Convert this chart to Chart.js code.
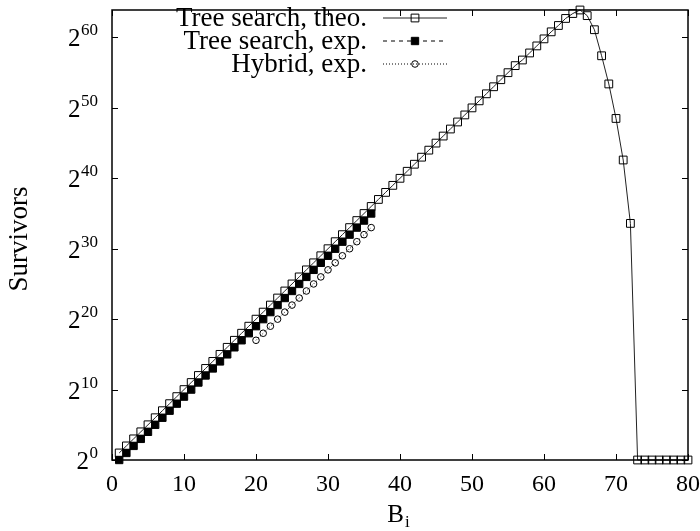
<!DOCTYPE html>
<html>
<head>
<meta charset="utf-8">
<script src="https://cdn.jsdelivr.net/npm/chart.js@4"></script>
<style>
  html, body { margin: 0; padding: 0; background: #fff; }
  canvas { display: block; }
</style>
</head>
<body>
<canvas id="chart" width="700" height="531"></canvas>
<script>
// B_i values and log2(survivors) for each series
const bTheo = [1, 2, 3, 4, 5, 6, 7, 8, 9, 10, 11, 12, 13, 14, 15, 16, 17, 18, 19, 20,
    21, 22, 23, 24, 25, 26, 27, 28, 29, 30, 31, 32, 33, 34, 35, 36, 37, 38, 39, 40,
    41, 42, 43, 44, 45, 46, 47, 48, 49, 50, 51, 52, 53, 54, 55, 56, 57, 58, 59, 60,
    61, 62, 63, 64, 65, 66, 67, 68, 69, 70, 71, 72, 73, 74, 75, 76, 77, 78, 79, 80];
const logTheo = [1, 2, 3, 4, 5, 6, 7, 8, 9, 10, 11, 12, 13, 14, 15, 16, 17, 18, 19, 20,
    21, 22, 23, 24, 25, 26, 27, 28, 29, 30, 31, 32, 33, 34, 35, 36, 37, 38, 39, 40,
    41, 42, 43, 44, 45, 46, 47, 48, 49, 50, 51, 52, 53, 54, 55, 56, 56.8, 57.8, 58.8, 59.8,
    60.8, 61.7, 62.7, 63.4, 63.9, 63.1, 61.1, 57.4, 53.4, 48.5, 42.6, 33.6, 0, 0, 0, 0, 0, 0, 0, 0];

const bExp = [1, 2, 3, 4, 5, 6, 7, 8, 9, 10, 11, 12, 13, 14, 15, 16, 17, 18,
    19, 20, 21, 22, 23, 24, 25, 26, 27, 28, 29, 30, 31, 32, 33, 34, 35, 36];
const logExp = [0, 1, 2, 3, 4, 5, 6, 7, 8, 9, 10, 11, 12, 13, 14, 15, 16, 17,
    18, 19, 20, 21, 22, 23, 24, 25, 26, 27, 28, 29, 30, 31, 32, 33, 34, 35];

const bHybrid = [20, 21, 22, 23, 24, 25, 26, 27, 28, 29, 30, 31, 32, 33, 34, 35, 36];
const logHybrid = [17, 18, 19, 20, 21, 22, 23, 24, 25, 26, 27, 28, 29, 30, 31, 32, 33];

const seriesNames = ["Tree search, theo.", "Tree search, exp.", "Hybrid, exp."];
const xTicks = [0, 10, 20, 30, 40, 50, 60, 70, 80];
const yTicks = [0, 10, 20, 30, 40, 50, 60];

const SERIF = "'Liberation Serif', 'DejaVu Serif', serif";

const pts = (xs, ys) => xs.map((x, i) => ({ x: x, y: ys[i] }));

// frame, inward ticks, y labels as 2^n, axis titles and the legend
const framePlugin = {
    id: "frame",
    afterDraw(chart) {
        const ctx = chart.ctx;
        const a = chart.chartArea;
        const xs = chart.scales.x, ys = chart.scales.y;
        ctx.save();
        ctx.strokeStyle = "#000";
        ctx.lineWidth = 1.5;
        ctx.strokeRect(a.left, a.top, a.right - a.left, a.bottom - a.top);

        ctx.lineWidth = 1;
        ctx.beginPath();
        for (const v of xTicks) {
            const px = Math.round(xs.getPixelForValue(v)) + 0.5;
            ctx.moveTo(px, a.bottom); ctx.lineTo(px, a.bottom - 6);
            ctx.moveTo(px, a.top); ctx.lineTo(px, a.top + 6);
        }
        for (const v of yTicks) {
            const py = Math.round(ys.getPixelForValue(v)) + 0.5;
            ctx.moveTo(a.left, py); ctx.lineTo(a.left + 6, py);
            ctx.moveTo(a.right, py); ctx.lineTo(a.right - 6, py);
        }
        ctx.stroke();

        // y tick labels: 2 with superscript exponent
        ctx.fillStyle = "#000";
        ctx.textBaseline = "alphabetic";
        for (const v of yTicks) {
            const py = ys.getPixelForValue(v);
            const exp = String(v);
            ctx.font = "17px " + SERIF;
            const ew = ctx.measureText(exp).width;
            ctx.textAlign = "left";
            const right = 98;
            ctx.fillText(exp, right - ew, py - 2);
            ctx.font = "25px " + SERIF;
            ctx.textAlign = "right";
            ctx.fillText("2", right - ew - 0.5, py + 9);
        }

        // axis titles
        ctx.font = "27px " + SERIF;
        ctx.textAlign = "center";
        ctx.textBaseline = "middle";
        ctx.save();
        ctx.translate(20, (a.top + a.bottom) / 2 + 4);
        ctx.rotate(-Math.PI / 2);
        ctx.fillText("Survivors", 0, 0);
        ctx.restore();

        const cx = (a.left + a.right) / 2;
        ctx.font = "25px " + SERIF;
        ctx.textAlign = "right";
        ctx.textBaseline = "alphabetic";
        ctx.fillText("B", cx + 4, 522);
        ctx.font = "17px " + SERIF;
        ctx.textAlign = "left";
        ctx.fillText("i", cx + 5, 527);

        // legend
        const rows = [18, 41, 64];
        const textRight = 367, lineL = 383, lineR = 447, mark = 415;
        chart.data.datasets.forEach((ds, i) => {
            const y = rows[i];
            ctx.font = "27px " + SERIF;
            ctx.textAlign = "right";
            ctx.textBaseline = "middle";
            ctx.fillStyle = "#000";
            ctx.fillText(seriesNames[i], textRight, y + 1);
            ctx.strokeStyle = ds.borderColor;
            ctx.lineWidth = ds.borderWidth;
            ctx.setLineDash(ds.borderDash || []);
            ctx.beginPath();
            ctx.moveTo(lineL, y); ctx.lineTo(lineR, y);
            ctx.stroke();
            ctx.setLineDash([]);
            ctx.strokeStyle = "#000";
            ctx.lineWidth = ds.pointBorderWidth;
            ctx.fillStyle = ds.pointBackgroundColor;
            ctx.beginPath();
            if (ds.pointStyle === "circle") {
                ctx.arc(mark, y, ds.pointRadius, 0, Math.PI * 2);
            } else {
                const h = ds.pointRadius * Math.SQRT1_2;
                ctx.rect(mark - h, y - h, 2 * h, 2 * h);
            }
            ctx.fill();
            ctx.stroke();
        });
        ctx.restore();
    }
};

new Chart(document.getElementById("chart"), {
    type: "line",
    data: {
        datasets: [
            {
                label: seriesNames[0],
                data: pts(bTheo, logTheo),
                borderColor: "#222",
                borderWidth: 1,
                pointStyle: "rect",
                pointRadius: 5.5,
                pointBorderWidth: 1,
                pointBorderColor: "#000",
                pointBackgroundColor: "rgba(255,255,255,0)",
                clip: false,
                order: 3
            },
            {
                label: seriesNames[1],
                data: pts(bExp, logExp),
                borderColor: "#000",
                borderWidth: 1,
                borderDash: [4, 4],
                pointStyle: "rect",
                pointRadius: 5.2,
                pointBorderWidth: 1,
                pointBorderColor: "#000",
                pointBackgroundColor: "#000",
                clip: false,
                order: 2
            },
            {
                label: seriesNames[2],
                data: pts(bHybrid, logHybrid),
                borderColor: "#000",
                borderWidth: 1,
                borderDash: [1, 2],
                pointStyle: "circle",
                pointRadius: 3.3,
                pointBorderWidth: 1,
                pointBorderColor: "#000",
                pointBackgroundColor: "rgba(255,255,255,0)",
                clip: false,
                order: 1
            }
        ]
    },
    options: {
        responsive: false,
        animation: false,
        devicePixelRatio: 1,
        layout: { padding: { top: 10, right: 12, left: 0, bottom: 0 } },
        plugins: { legend: { display: false }, tooltip: { enabled: false } },
        elements: { line: { tension: 0 } },
        scales: {
            x: {
                type: "linear",
                min: 0,
                max: 80,
                afterBuildTicks: (s) => { s.ticks = xTicks.map(v => ({ value: v })); },
                ticks: {
                    color: "#000",
                    font: { family: SERIF, size: 24 },
                    padding: 10,
                    maxRotation: 0
                },
                grid: { display: false, drawTicks: false },
                border: { display: false },
                afterFit: (s) => { s.height = 71; s.paddingLeft = 0; s.paddingRight = 0; }
            },
            y: {
                type: "linear",
                min: 0,
                max: Math.max(...logTheo),
                ticks: { display: false },
                grid: { display: false, drawTicks: false },
                border: { display: false },
                afterFit: (s) => { s.width = 112; }
            }
        }
    },
    plugins: [framePlugin]
});
</script>
</body>
</html>
